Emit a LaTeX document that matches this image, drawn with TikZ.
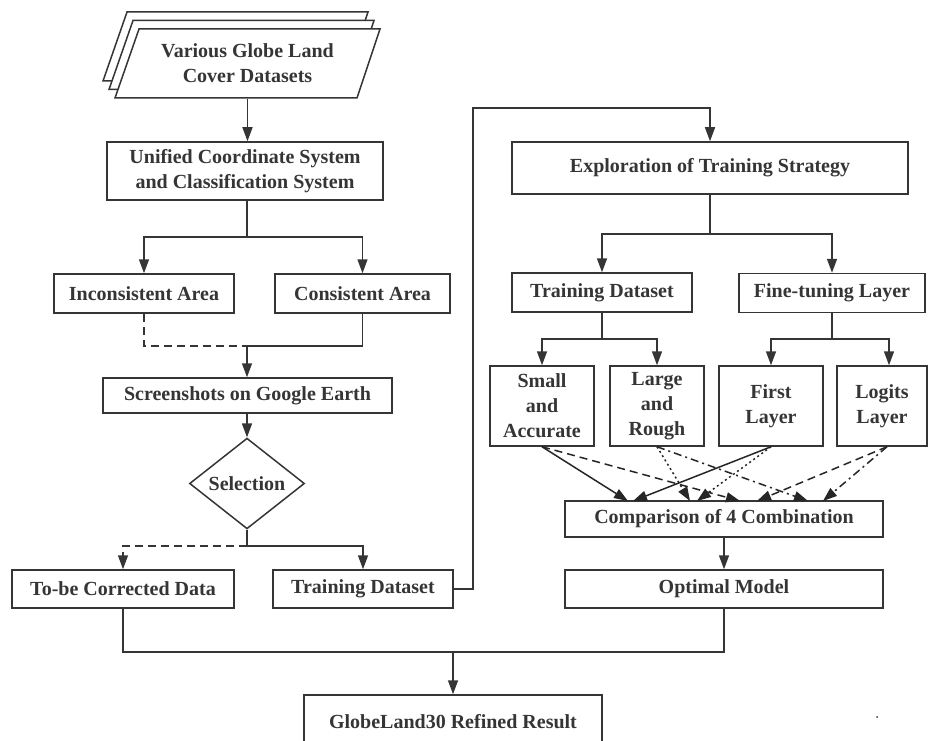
\documentclass[tikz,border=0pt]{standalone}
\usepackage{fontspec}
\setmainfont{Liberation Serif}
\usetikzlibrary{arrows.meta,shapes.geometric,calc}
\definecolor{ink}{HTML}{353535}

\begin{document}
\begin{tikzpicture}[x=1pt, y=-1pt,
  box/.style={draw=ink, line width=1.5pt, fill=white, text=ink, align=center,
    font=\bfseries\fontsize{20}{25}\selectfont, inner sep=0pt},
  dataset/.style={box, draw=none, fill=none, minimum width=220pt, minimum height=69pt},
  choice/.style={box, diamond, minimum width=115pt, minimum height=77pt},
  link/.style={draw=ink, line width=1.5pt},
  arr/.style={link, -{Triangle[length=14pt, width=10pt]}},
  dashlink/.style={dash pattern=on 8pt off 5pt},
  dotlink/.style={dash pattern=on 2pt off 3pt},
  dashdotlink/.style={dash pattern=on 8pt off 4pt on 2pt off 4pt},
  cross/.style={draw=black!85, line width=1.5pt, -{Triangle[length=14pt, width=10pt]}}
]
\useasboundingbox (0,0) rectangle (929,741);

% stacked datasets
\foreach \dx/\dy in {-12/-17, -6/-8.5, 0/0}
  \filldraw[link, fill=white, line join=miter]
    (115+\dx,98+\dy) -- (139+\dx,29+\dy) -- (380+\dx,29+\dy) -- (357+\dx,98+\dy) -- cycle;

% left column
\node[dataset] (data) at (247.5,63.5) {Various Globe Land\\Cover Datasets};
\node[box, minimum width=276pt, minimum height=58pt] (unify) at (245,171) {Unified Coordinate System\\and Classification System};
\node[box, minimum width=180pt, minimum height=39pt] (incons) at (144,293.5) {Inconsistent Area};
\node[box, minimum width=175pt, minimum height=39pt] (cons) at (362.5,293.5) {Consistent Area};
\node[box, minimum width=289pt, minimum height=35pt] (shots) at (247.5,395.5) {Screenshots on Google Earth};
\node[choice] (sel) at (247,483.5) {Selection};
\node[box, minimum width=222pt, minimum height=38pt] (tobe) at (123,589) {To-be Corrected Data};
\node[box, minimum width=180pt, minimum height=38pt] (train) at (363,589) {Training Dataset};

% right column
\node[box, minimum width=396pt, minimum height=52pt] (explore) at (710,168) {Exploration of Training Strategy};
\node[box, minimum width=180pt, minimum height=39pt] (tds) at (602,292.5) {Training Dataset};
\node[box, minimum width=186pt, minimum height=39pt] (ftl) at (832,293) {Fine-tuning Layer};
\node[box, minimum width=104pt, minimum height=80pt] (sa) at (542,406) {Small\\and\\Accurate};
\node[box, minimum width=94pt, minimum height=80pt] (lr) at (657,406) {Large\\and\\Rough};
\node[box, minimum width=104pt, minimum height=80pt] (fl) at (771,406) {First\\Layer};
\node[box, minimum width=90pt, minimum height=80pt] (ll) at (882,406) {Logits\\Layer};
\node[box, minimum width=318pt, minimum height=36pt] (comp) at (724,519) {Comparison of 4 Combination};
\node[box, minimum width=318pt, minimum height=38pt] (opt) at (724,589) {Optimal Model};
\node[box, minimum width=298pt, minimum height=54pt] (glob) at (453,722) {GlobeLand30 Refined Result};

% branch points
\coordinate (b1) at (247,237);
\coordinate (m1) at (247,346);
\coordinate (s1) at (247,546);
\coordinate (r1) at (473,108);
\coordinate (b2) at (710,234);
\coordinate (b3) at (602,339);
\coordinate (b4) at (832,339);
\coordinate (b5) at (453,652);

\draw[arr] (data.south) -- (data.south |- unify.north);
\draw[link] (unify.south -| b1) -- (b1);
\draw[arr] (b1) -| (incons.north);
\draw[arr] (b1) -| (cons.north);
\draw[link, dashlink] (incons.south) |- (m1);
\draw[link] (cons.south) |- (m1);
\draw[arr] (m1) -- (shots.north -| m1);
\draw[arr] (shots.south -| sel.north) -- (sel.north);
\draw[link] (sel.south) -- (s1);
\draw[arr, dashlink] (s1) -| (tobe.north);
\draw[arr] (s1) -| (train.north);
\draw[arr] (train.east) -| (r1) -| (explore.north);

\draw[link] (explore.south) -- (b2);
\draw[arr] (b2) -| (tds.north);
\draw[arr] (b2) -| (ftl.north);
\draw[link] (tds.south) -- (b3);
\draw[arr] (b3) -| (sa.north);
\draw[arr] (b3) -| (lr.north);
\draw[link] (ftl.south) -- (b4);
\draw[arr] (b4) -| (fl.north);
\draw[arr] (b4) -| ([xshift=7pt]ll.north);

% four combinations
\coordinate (t1a) at (628,501);
\coordinate (t1b) at (633,501);
\coordinate (t2a) at (690,501);
\coordinate (t2b) at (697,501);
\coordinate (t3a) at (740,501);
\coordinate (t3b) at (757,501);
\coordinate (t4a) at (808,501);
\coordinate (t4b) at (823,501);
\draw[cross] (sa.south) -- (t1a);
\draw[cross] (fl.south) -- (t1b);
\draw[cross, dotlink] (lr.south) -- (t2a);
\draw[cross, dotlink] (fl.south) -- (t2b);
\draw[cross, dashlink] (sa.south) -- (t3a);
\draw[cross, dashlink] ([xshift=5pt]ll.south) -- (t3b);
\draw[cross, dashdotlink] (lr.south) -- (t4a);
\draw[cross, dashdotlink] ([xshift=5pt]ll.south) -- (t4b);

\draw[arr] (comp.south) -- (opt.north);
\draw[link] (tobe.south) |- (b5);
\draw[link] (opt.south) |- (b5);
\draw[arr] (b5) -- (glob.north);

\fill[ink] (877,717) circle (1pt);
\end{tikzpicture}
\end{document}
